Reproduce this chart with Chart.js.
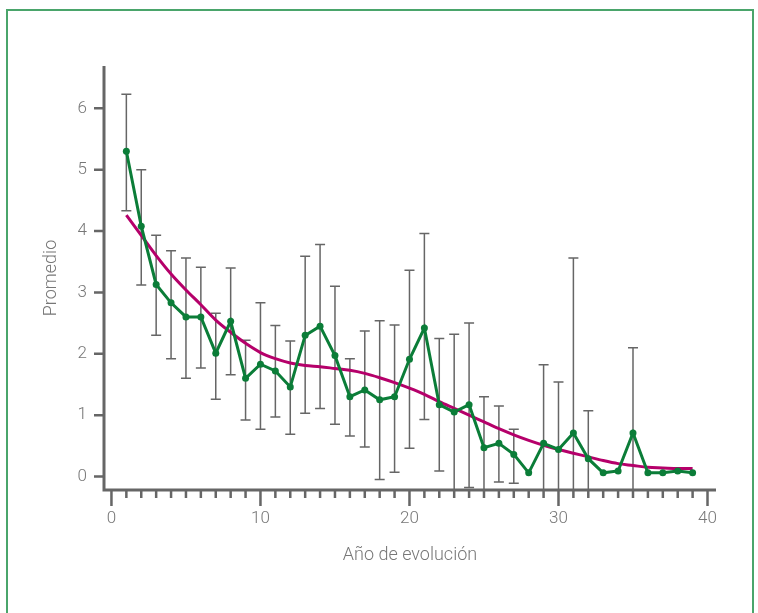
<!DOCTYPE html>
<html>
<head>
<meta charset="utf-8">
<script src="https://cdn.jsdelivr.net/npm/chart.js@4"></script>
<style>
  html, body { margin: 0; padding: 0; background: #fff; }
  #wrap { position: relative; width: 758px; height: 613px; }
  #frame { position: absolute; left: 6px; top: 9px; width: 748px; height: 606px; border: 2px solid #4aa56b; box-sizing: border-box; }
  canvas { position: absolute; left: 0; top: 0; }
</style>
</head>
<body>
<div id="wrap">
  <div id="frame"></div>
  <canvas id="chart" width="758" height="613"></canvas>
</div>
<script>
// years of evolution
const years = [1, 2, 3, 4, 5, 6, 7, 8, 9, 10, 11, 12, 13, 14, 15, 16, 17, 18, 19, 20,
  21, 22, 23, 24, 25, 26, 27, 28, 29, 30, 31, 32, 33, 34, 35, 36, 37, 38, 39];

// mean per year (green line)
const means = [5.30, 4.08, 3.13, 2.83, 2.60, 2.60, 2.01, 2.53, 1.60, 1.83, 1.72, 1.46, 2.30,
  2.45, 1.97, 1.30, 1.41, 1.25, 1.30, 1.91, 2.42, 1.17, 1.05, 1.17, 0.47, 0.54, 0.36, 0.06,
  0.54, 0.44, 0.71, 0.29, 0.06, 0.09, 0.71, 0.06, 0.06, 0.09, 0.06];

// error bar ends (null = no bar)
const upper = [6.23, 5.00, 3.93, 3.68, 3.56, 3.41, 2.66, 3.40, 2.22, 2.83, 2.46, 2.21, 3.59,
  3.78, 3.10, 1.92, 2.37, 2.54, 2.47, 3.36, 3.96, 2.25, 2.32, 2.50, 1.30, 1.15, 0.77, null,
  1.82, 1.54, 3.56, 1.07, null, null, 2.10, null, null, null, null];
const lower = [4.33, 3.12, 2.30, 1.92, 1.60, 1.77, 1.26, 1.66, 0.92, 0.77, 0.97, 0.69, 1.03,
  1.11, 0.85, 0.66, 0.48, -0.05, 0.07, 0.46, 0.93, 0.09, -0.5, -0.18, -0.5, -0.09, -0.11, null,
  -0.5, -0.5, -0.5, -0.5, null, null, -0.5, null, null, null, null];

// fitted trend (magenta curve)
const trend = [4.26, 3.93, 3.60, 3.30, 3.04, 2.80, 2.55, 2.35, 2.17, 2.02, 1.92, 1.85, 1.81,
  1.79, 1.76, 1.73, 1.68, 1.61, 1.53, 1.44, 1.34, 1.22, 1.11, 1.00, 0.89, 0.78, 0.68, 0.59,
  0.51, 0.44, 0.38, 0.32, 0.26, 0.21, 0.18, 0.15, 0.14, 0.13, 0.13];

const AXIS = '#666666';
const TXT = '#777777';

// error bars + hand drawn axes, positioned through the chart scales
const extras = {
  id: 'extras',
  beforeDatasetsDraw(chart) {
    const { ctx, chartArea: a, scales: { x, y } } = chart;
    ctx.save();
    ctx.beginPath();
    ctx.rect(a.left, a.top, a.right - a.left, a.bottom - a.top);
    ctx.clip();
    ctx.strokeStyle = AXIS;
    ctx.lineWidth = 1.5;
    years.forEach((yr, i) => {
      if (upper[i] == null) return;
      const px = x.getPixelForValue(yr);
      const pt = y.getPixelForValue(upper[i]);
      const pb = y.getPixelForValue(lower[i]);
      ctx.beginPath();
      ctx.moveTo(px, pt); ctx.lineTo(px, pb);
      ctx.moveTo(px - 5, pt); ctx.lineTo(px + 5, pt);
      ctx.moveTo(px - 5, pb); ctx.lineTo(px + 5, pb);
      ctx.stroke();
    });
    ctx.restore();
  },
  afterDraw(chart) {
    const { ctx, chartArea: a, scales: { x, y } } = chart;
    ctx.save();
    ctx.strokeStyle = AXIS;
    ctx.lineWidth = 3;
    ctx.beginPath();
    ctx.moveTo(a.left, a.top); ctx.lineTo(a.left, a.bottom + 1.5);
    ctx.moveTo(a.left, a.bottom); ctx.lineTo(a.right, a.bottom);
    ctx.stroke();
    ctx.lineWidth = 2.5;
    ctx.beginPath();
    y.ticks.forEach(t => {
      const py = y.getPixelForValue(t.value);
      ctx.moveTo(a.left - 10, py); ctx.lineTo(a.left, py);
    });
    x.ticks.forEach(t => {
      const px = x.getPixelForValue(t.value);
      const len = t.value % 10 === 0 ? 16 : 8;
      ctx.moveTo(px, a.bottom); ctx.lineTo(px, a.bottom + len);
    });
    ctx.stroke();
    ctx.restore();
  }
};

const tickFont = { family: 'Roboto, "Liberation Sans", sans-serif', size: 17, weight: 300 };
const titleFont = { family: 'Roboto, "Liberation Sans", sans-serif', size: 18, weight: 300 };

new Chart(document.getElementById('chart'), {
  type: 'scatter',
  data: {
    datasets: [
      {
        label: 'Promedio',
        data: years.map((yr, i) => ({ x: yr, y: means[i] })),
        showLine: true,
        borderColor: '#0b7d38',
        backgroundColor: '#0b7d38',
        borderWidth: 3,
        pointRadius: 3.5,
        pointBorderWidth: 0,
        tension: 0
      },
      {
        label: 'Tendencia',
        data: years.map((yr, i) => ({ x: yr, y: trend[i] })),
        showLine: true,
        borderColor: '#b5006a',
        borderWidth: 3,
        pointRadius: 0,
        cubicInterpolationMode: 'monotone'
      }
    ]
  },
  options: {
    responsive: false,
    animation: false,
    events: [],
    layout: { padding: { left: 0, top: 66, right: 42, bottom: 0 } },
    plugins: { legend: { display: false }, tooltip: { enabled: false } },
    scales: {
      x: {
        type: 'linear',
        min: -0.5,
        max: 40.57,
        afterFit: s => { s.height = 123; },
        grid: { display: false, drawTicks: false },
        border: { display: false },
        ticks: {
          stepSize: 1,
          includeBounds: false,
          autoSkip: false,
          maxRotation: 0,
          padding: 19,
          color: TXT,
          font: tickFont,
          callback: v => (v % 10 === 0 ? String(v) : '')
        },
        title: { display: true, text: 'Año de evolución', color: TXT, font: titleFont, padding: { top: 0, bottom: 47 } }
      },
      y: {
        min: -0.22,
        max: 6.69,
        afterFit: s => { s.width = 104; },
        grid: { display: false, drawTicks: false },
        border: { display: false },
        ticks: {
          stepSize: 1,
          includeBounds: false,
          padding: 17,
          color: TXT,
          font: tickFont
        },
        title: { display: true, text: 'Promedio', color: TXT, font: titleFont, padding: { top: 41, bottom: 0 } }
      }
    }
  },
  plugins: [extras]
});
</script>
</body>
</html>
